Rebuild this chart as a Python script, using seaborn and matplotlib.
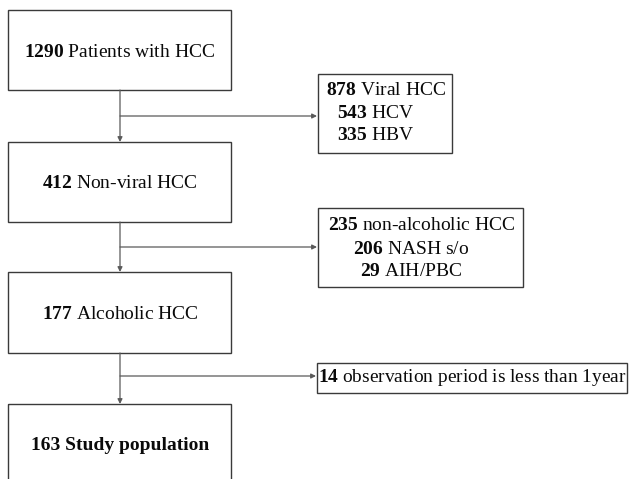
"""Patient selection flowchart

"""

import matplotlib
matplotlib.use("Agg")
import matplotlib.pyplot as plt
import seaborn as sns
from matplotlib.patches import Rectangle

# data
main_counts = [1290, 412, 177, 163]
main_labels = ["Patients with HCC", "Non-viral HCC", "Alcoholic HCC", "Study population"]
excl_counts = [[878, 543, 335], [235, 206, 29], [14]]
excl_labels = [["Viral HCC", "HCV", "HBV"],
               ["non-alcoholic HCC", "NASH s/o", "AIH/PBC"],
               ["observation period is less than 1year"]]

# layout (pixels, y downwards)
BOX_L, BOX_R, STEM_X = 8, 231, 120
main_tops = [10, 142, 272, 404]
main_bottoms = [90, 222, 353, 484]
side_boxes = [(318, 74, 452, 153), (318, 208, 523, 287), (317, 363, 627, 393)]
arrow_y = [116, 247, 376]
side_text_pos = [[(326, 90), (337, 113), (337, 136)],
                 [(328, 225), (353, 249), (360, 271)],
                 [(318.5, 378)]]
side_font = [14, 14, 13.95]

EDGE = "#3a3a3a"
STEM = "#5a5a5a"

sns.set_theme(style="white")
plt.rcParams["font.family"] = ["Liberation Serif", "DejaVu Serif"]
plt.rcParams["mathtext.fontset"] = "custom"
plt.rcParams["mathtext.rm"] = "Liberation Serif"
plt.rcParams["mathtext.bf"] = "Liberation Serif:bold"


def label(count, text, bold_all=False):
    if bold_all:
        return f"{count} {text}"
    return rf"$\mathbf{{{count}}}$ {text}"


fig = plt.figure(figsize=(6.30, 4.79), dpi=100)
ax = fig.add_axes([0, 0, 1, 1])
ax.set_xlim(0, 630)
ax.set_ylim(479, 0)
ax.axis("off")

# main boxes
for i, (count, text) in enumerate(zip(main_counts, main_labels)):
    top, bottom = main_tops[i], main_bottoms[i]
    ax.add_patch(Rectangle((BOX_L, top), BOX_R - BOX_L, bottom - top,
                           fill=False, edgecolor=EDGE, lw=1.0))
    last = i == len(main_counts) - 1
    ymid = (top + 80 / 2) if last else (top + bottom) / 2
    ax.text(STEM_X, ymid + 2, label(count, text, bold_all=last),
            ha="center", va="center", fontsize=14, color="#0a0a0a",
            fontweight="bold" if last else "normal")

# connectors between main boxes and exclusion branches
for i in range(len(main_counts) - 1):
    ax.annotate("", xy=(STEM_X, main_tops[i + 1]), xytext=(STEM_X, main_bottoms[i]),
                arrowprops=dict(arrowstyle="-|>", color=STEM, lw=0.9,
                                mutation_scale=7, shrinkA=0, shrinkB=0))
    x0, y0, x1, y1 = side_boxes[i]
    ax.annotate("", xy=(x0 - 1, arrow_y[i]), xytext=(STEM_X, arrow_y[i]),
                arrowprops=dict(arrowstyle="-|>", color=STEM, lw=0.9,
                                mutation_scale=7, shrinkA=0, shrinkB=0))
    ax.add_patch(Rectangle((x0, y0), x1 - x0, y1 - y0,
                           fill=False, edgecolor=EDGE, lw=1.0))
    for count, text, (tx, ty) in zip(excl_counts[i], excl_labels[i], side_text_pos[i]):
        ax.text(tx, ty, label(count, text), ha="left", va="center",
                fontsize=side_font[i], color="#0a0a0a")

fig.savefig("out.png", dpi=100)
